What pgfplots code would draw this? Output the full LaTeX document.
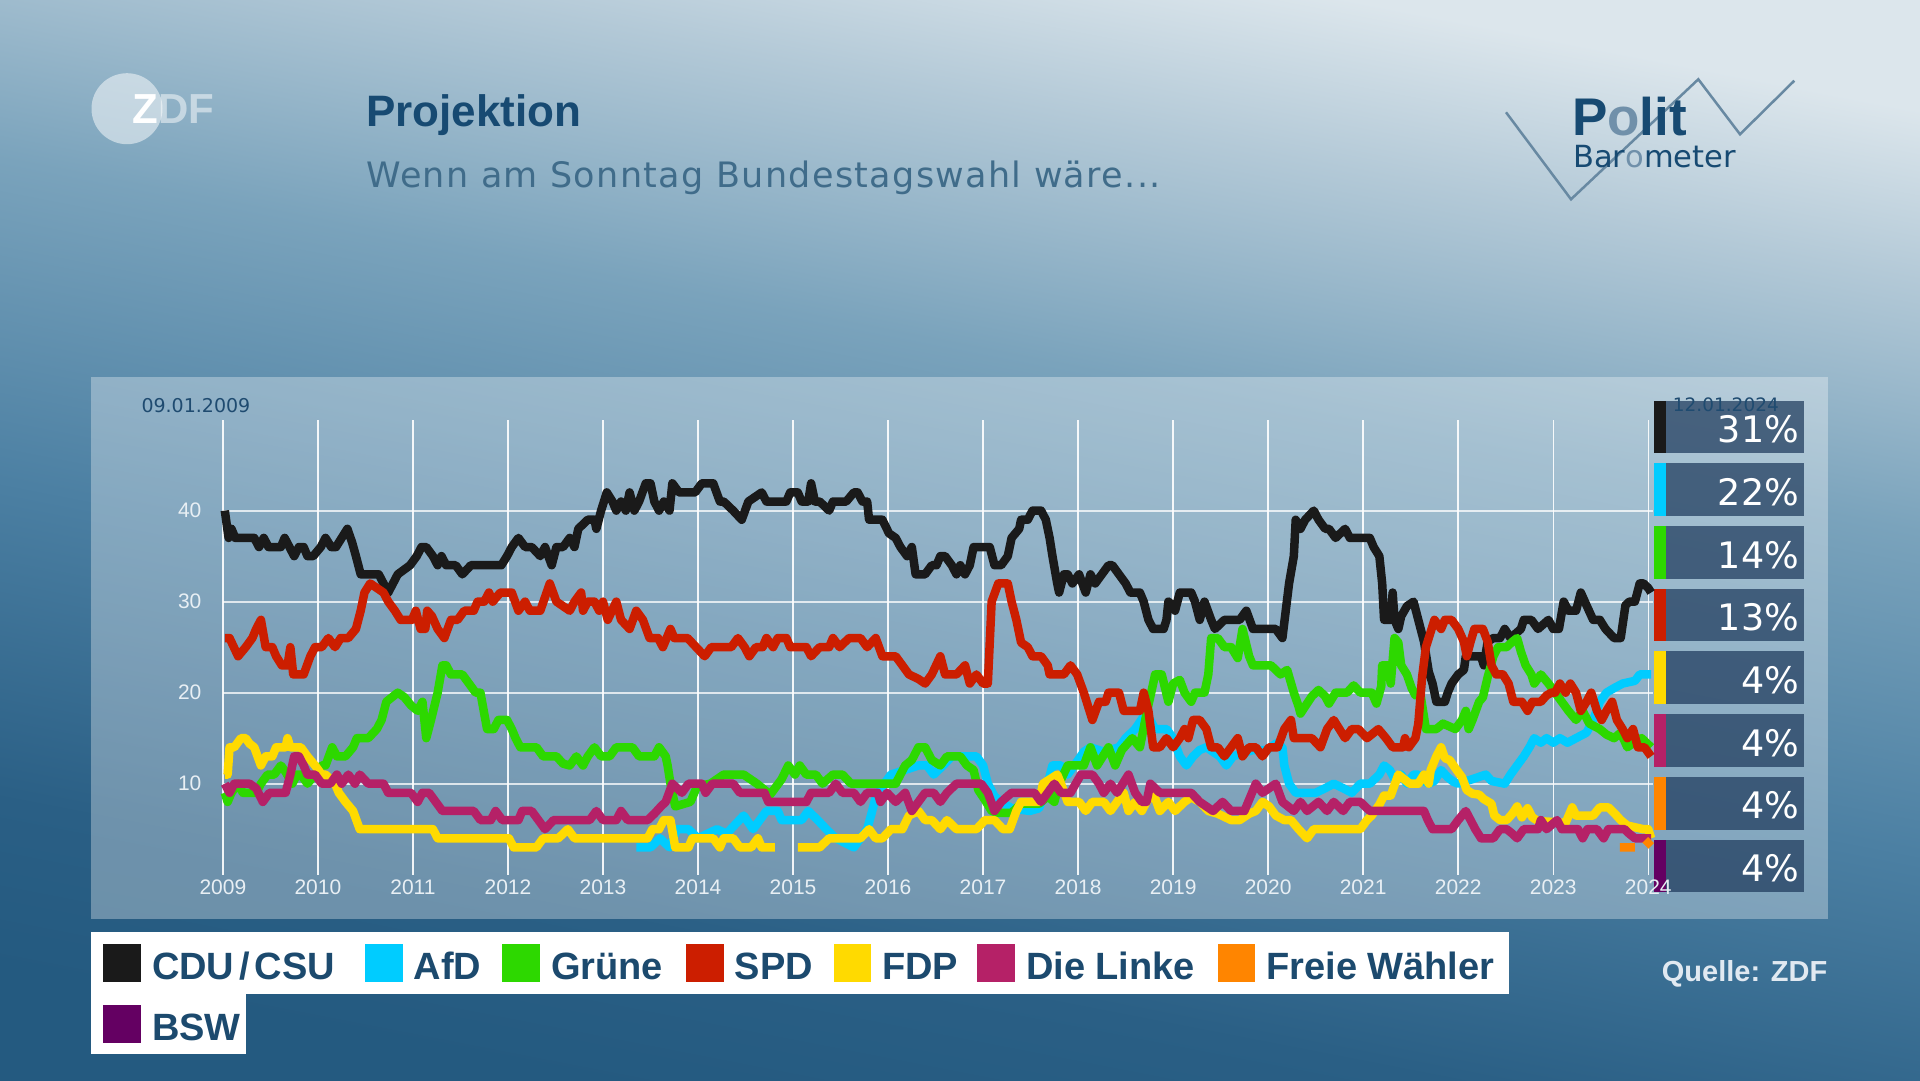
\documentclass[border=0pt]{standalone}
\usepackage{fontspec}
\setmainfont{Liberation Sans}
\newfontfamily\dejavu{DejaVu Sans}
\newfontfamily\subfont{DejaVu Sans}[LetterSpace=3.8]
\usepackage{pgfplots}
\usepackage{pgfplotstable}
\pgfplotsset{compat=1.18}

\definecolor{cCDU}{HTML}{1A1A1A}
\definecolor{cAfD}{HTML}{00CCFF}
\definecolor{cGruene}{HTML}{2DD800}
\definecolor{cSPD}{HTML}{CC1E00}
\definecolor{cFDP}{HTML}{FFDA00}
\definecolor{cLinke}{HTML}{B52167}
\definecolor{cFW}{HTML}{FF8500}
\definecolor{cBSW}{HTML}{640062}
\definecolor{titleblue}{HTML}{174A72}
\definecolor{subblue}{HTML}{406C8A}
\definecolor{legblue}{HTML}{1C4A6E}
\definecolor{dateblue}{HTML}{1F4B70}
\definecolor{tickcol}{HTML}{E8EFF4}
\definecolor{boxcol}{HTML}{1E3A5C}
\definecolor{logoline}{HTML}{6889A2}
\definecolor{logolight}{HTML}{7090AA}
\definecolor{quellecol}{HTML}{E1E9F1}
\definecolor{bgA}{HTML}{245A80}
\definecolor{bgB}{HTML}{2A5F85}
\definecolor{bgC}{HTML}{4C80A3}
\definecolor{bgD}{HTML}{7AA3BC}
\definecolor{bgE}{HTML}{B3C9D7}
\definecolor{bgF}{HTML}{DCE6EC}
\pgfdeclareverticalshading{bgshade}{100bp}{color(0bp)=(bgA); color(25bp)=(bgA); color(31.9bp)=(bgB); color(44.9bp)=(bgC); color(57.9bp)=(bgD); color(68.1bp)=(bgE); color(75bp)=(bgF); color(100bp)=(bgF)}

\pgfplotstableread{
x y
2009.02 40
2009.06 37
2009.09 38
2009.13 37
2009.33 37
2009.38 36
2009.43 37
2009.48 36
2009.61 36
2009.65 37
2009.70 36
2009.75 35
2009.80 36
2009.85 36
2009.89 35
2009.95 35
2010.03 36
2010.08 37
2010.14 36
2010.19 36
2010.25 37
2010.31 38
2010.36 36.5
2010.40 35
2010.45 33
2010.64 33
2010.69 32
2010.74 31
2010.84 33
2010.97 34
2011.04 35
2011.09 36
2011.14 36
2011.21 35
2011.26 34
2011.30 35
2011.35 34
2011.45 34
2011.52 33
2011.61 34
2011.93 34
2011.99 35
2012.04 36
2012.11 37
2012.18 36
2012.25 36
2012.34 35
2012.39 36
2012.46 34
2012.51 36
2012.58 36
2012.65 37
2012.70 36
2012.74 38
2012.84 39
2012.91 39
2012.93 38
2012.98 40
2013.04 42
2013.10 41
2013.14 40
2013.19 41
2013.24 40
2013.28 42
2013.33 40
2013.38 41
2013.45 43
2013.50 43
2013.54 41
2013.59 40
2013.64 41
2013.70 40
2013.73 43
2013.80 42
2013.97 42
2014.04 43
2014.16 43
2014.23 41
2014.27 41
2014.37 40
2014.46 39
2014.53 41
2014.67 42
2014.72 41
2014.93 41
2014.97 42
2015.05 42
2015.09 41
2015.16 41
2015.19 43
2015.23 41
2015.28 41
2015.38 40
2015.42 41
2015.56 41
2015.64 42
2015.68 42
2015.73 41
2015.78 41
2015.80 39
2015.94 39
2016.01 37.5
2016.08 37
2016.13 36
2016.20 35
2016.25 36
2016.29 33
2016.39 33
2016.46 34
2016.51 34
2016.55 35
2016.60 35
2016.67 34
2016.72 33
2016.76 34
2016.81 33
2016.86 34
2016.90 36
2017.07 36
2017.12 34
2017.19 34
2017.26 35
2017.30 37
2017.38 38
2017.40 39
2017.47 39
2017.52 40
2017.61 40
2017.66 39
2017.70 37
2017.73 35
2017.78 32
2017.80 31
2017.85 33
2017.89 33
2017.94 32
2018.01 33
2018.08 31
2018.13 33
2018.18 32
2018.25 33
2018.32 34
2018.36 34
2018.43 33
2018.50 32
2018.55 31
2018.65 31
2018.69 30
2018.74 28
2018.79 27
2018.90 27
2018.93 28
2018.95 30
2019.00 29.5
2019.02 29
2019.07 31
2019.19 31
2019.23 30
2019.28 28
2019.33 30
2019.40 28
2019.44 27
2019.54 28
2019.70 28
2019.77 29
2019.84 27
2020.08 27
2020.15 26
2020.22 32
2020.27 35
2020.29 39
2020.34 38
2020.39 39
2020.48 40
2020.53 39
2020.60 38
2020.64 38
2020.71 37
2020.81 38
2020.86 37
2021.07 37
2021.11 36
2021.17 35
2021.20 32
2021.22 28
2021.29 28
2021.31 31
2021.33 28
2021.37 27
2021.40 28.4
2021.46 29.5
2021.53 30
2021.58 28
2021.64 25.6
2021.69 22.3
2021.73 21
2021.77 19
2021.86 19
2021.89 20
2021.93 21
2022.00 22
2022.06 22.5
2022.08 24
2022.24 24
2022.27 23
2022.31 25.6
2022.37 26
2022.44 26
2022.49 27
2022.55 26
2022.66 27
2022.69 28
2022.77 28
2022.84 27
2022.95 28
2023.00 27
2023.06 27
2023.11 30
2023.16 29
2023.24 29
2023.29 31
2023.35 29.6
2023.42 28
2023.49 28
2023.55 27
2023.64 26
2023.71 26
2023.76 29.6
2023.80 30
2023.86 30
2023.91 32
2023.95 32
2024.00 31.5
2024.03 31
}\cdu

\pgfplotstableread{
x y
2009.02 26
2009.07 26
2009.16 24
2009.24 25
2009.31 26
2009.35 27
2009.40 28
2009.45 25
2009.52 25
2009.56 24
2009.62 23
2009.68 23
2009.71 25
2009.74 22
2009.85 22
2009.92 24
2009.97 25
2010.04 25
2010.11 26
2010.18 25
2010.24 26
2010.32 26
2010.40 27
2010.45 29
2010.49 31
2010.55 32
2010.62 31.5
2010.69 31
2010.74 30
2010.81 29
2010.87 28
2010.99 28
2011.03 29
2011.08 27
2011.13 27
2011.15 29
2011.20 28.4
2011.26 27
2011.33 26
2011.40 28
2011.47 28
2011.54 29
2011.64 29
2011.68 30
2011.75 30
2011.80 31
2011.84 30
2011.92 31
2012.04 31
2012.11 29
2012.18 30
2012.23 29
2012.34 29
2012.39 30.5
2012.44 32
2012.51 30
2012.58 29.5
2012.65 29
2012.70 30
2012.77 31
2012.79 29
2012.84 30
2012.91 30
2012.96 29
2013.00 30
2013.05 28
2013.14 30
2013.19 28
2013.28 27
2013.35 29
2013.42 28
2013.49 26
2013.58 26
2013.63 25
2013.71 27
2013.75 26
2013.89 26
2013.98 25
2014.07 24
2014.14 25
2014.35 25
2014.42 26
2014.49 25
2014.54 24
2014.61 25
2014.68 25
2014.72 26
2014.79 25
2014.84 26
2014.93 26
2014.97 25
2015.14 25
2015.19 24
2015.28 25
2015.38 25
2015.42 26
2015.49 25
2015.59 26
2015.71 26
2015.78 25
2015.87 26
2015.94 24
2016.08 24
2016.15 23
2016.22 22
2016.32 21.5
2016.39 21
2016.46 22
2016.55 24
2016.60 22
2016.72 22
2016.81 23
2016.86 21
2016.93 22
2017.00 21
2017.05 21
2017.09 30
2017.16 32
2017.26 32
2017.30 30
2017.35 28
2017.40 25.5
2017.47 25
2017.52 24
2017.61 24
2017.68 23
2017.70 22
2017.85 22
2017.92 23
2017.99 22
2018.06 20
2018.15 17
2018.22 19
2018.29 19
2018.32 20
2018.43 20
2018.48 18
2018.65 18
2018.69 20
2018.74 18
2018.79 14
2018.86 14
2018.93 15
2019.00 14
2019.07 15
2019.12 16
2019.16 15
2019.21 17
2019.28 17
2019.35 16
2019.40 14
2019.47 14
2019.54 13
2019.61 14
2019.68 15
2019.73 13
2019.80 14
2019.87 14
2019.94 13
2020.01 14
2020.10 14
2020.17 16
2020.24 17
2020.27 15
2020.46 15
2020.55 14
2020.62 16
2020.69 17
2020.81 15
2020.88 16
2020.95 16
2021.04 15
2021.16 16
2021.24 15
2021.31 14
2021.42 14
2021.44 15
2021.48 14
2021.55 15
2021.58 16.6
2021.62 21.7
2021.66 25
2021.69 26
2021.75 28
2021.82 27
2021.86 28
2021.93 28
2022.00 27
2022.06 25.6
2022.09 24
2022.13 25.6
2022.17 27
2022.26 27
2022.31 25.6
2022.35 23
2022.40 22
2022.47 22
2022.53 21
2022.58 19
2022.67 19
2022.73 18
2022.78 19
2022.87 19
2022.93 19.7
2022.98 20
2023.02 20
2023.07 21
2023.13 20
2023.18 21
2023.24 20
2023.29 18
2023.35 19
2023.40 20
2023.46 18
2023.51 17
2023.56 18
2023.62 19
2023.67 17
2023.73 16
2023.78 15
2023.84 16
2023.89 14
2023.96 14
2024.03 13
}\spd

\pgfplotstableread{
x y
2009.02 9
2009.05 8
2009.09 9
2009.16 10
2009.21 9
2009.35 9
2009.40 10
2009.47 11
2009.54 11
2009.61 12
2009.66 11.3
2009.73 10
2009.78 11
2009.82 11
2009.89 10
2009.97 11
2010.04 12
2010.08 12
2010.15 14
2010.20 13
2010.29 13
2010.37 14
2010.41 15
2010.53 15
2010.62 16
2010.67 17
2010.72 19
2010.84 20
2010.91 19.5
2010.98 18.6
2011.05 18
2011.10 19
2011.14 15
2011.19 17
2011.26 20
2011.31 23
2011.35 23
2011.40 22
2011.52 22
2011.59 21
2011.66 20
2011.71 20
2011.78 16
2011.85 16
2011.90 17
2011.99 17
2012.04 16
2012.08 15
2012.13 14
2012.30 14
2012.37 13
2012.51 13
2012.58 12.2
2012.65 12
2012.72 13
2012.79 12
2012.84 13
2012.91 14
2012.98 13
2013.07 13
2013.14 14
2013.31 14
2013.38 13
2013.54 13
2013.59 14
2013.66 13
2013.68 12
2013.71 10
2013.76 7.5
2013.92 8
2013.99 9.7
2014.13 10
2014.27 11
2014.48 11
2014.62 10
2014.76 8.8
2014.88 10.5
2014.95 12
2015.02 11
2015.07 12
2015.14 11
2015.24 11
2015.31 10
2015.42 11
2015.52 11
2015.61 10
2016.08 10
2016.18 12
2016.25 12.6
2016.32 14
2016.39 14
2016.46 12.6
2016.55 12
2016.62 13
2016.76 13
2016.83 12
2016.90 11.5
2016.95 9.3
2017.02 8.2
2017.09 7
2017.16 6.8
2017.30 6.8
2017.40 7.8
2017.59 7.8
2017.68 8.6
2017.75 8
2017.80 10
2017.89 12
2018.06 12
2018.13 14
2018.20 12
2018.32 14
2018.39 12
2018.46 13.7
2018.57 15
2018.65 14
2018.72 17.7
2018.79 21
2018.81 22
2018.88 22
2018.95 19
2019.00 21
2019.07 21.4
2019.12 20
2019.19 19
2019.23 20
2019.33 20
2019.37 22
2019.40 26
2019.47 26
2019.54 25
2019.61 25
2019.68 23.8
2019.73 27
2019.80 24
2019.84 23
2020.03 23
2020.13 22
2020.20 22.5
2020.27 20
2020.32 18.5
2020.34 17.7
2020.39 18.5
2020.46 19.6
2020.53 20.3
2020.60 19.6
2020.64 18.8
2020.71 20
2020.83 20
2020.90 20.8
2020.97 20
2021.09 20
2021.14 18.8
2021.19 20.7
2021.20 23
2021.26 23
2021.29 21
2021.33 26
2021.37 25.5
2021.40 23
2021.46 22
2021.51 20.5
2021.55 19.7
2021.60 20
2021.66 16
2021.77 16
2021.84 16.6
2021.97 16
2022.04 17
2022.08 18
2022.11 16
2022.15 17
2022.22 19
2022.26 19.5
2022.31 21.7
2022.37 24
2022.42 25
2022.51 25
2022.57 25.6
2022.62 26
2022.66 24.5
2022.71 23
2022.77 22
2022.80 21
2022.87 22
2022.95 21
2023.02 20
2023.09 19
2023.16 18
2023.24 17
2023.31 18
2023.38 16.6
2023.49 16
2023.56 15.4
2023.64 15
2023.71 15.6
2023.78 14
2023.86 14.6
2023.93 15
2024.03 14
}\gruene

\pgfplotstableread{
x y
2009.02 11
2009.05 11
2009.07 14
2009.12 14
2009.19 15
2009.24 15
2009.28 14.4
2009.33 14
2009.40 12
2009.45 13
2009.52 13
2009.56 14
2009.66 14
2009.68 15
2009.71 14
2009.82 14
2009.89 13
2009.97 12
2010.04 11
2010.08 11
2010.18 10
2010.22 9
2010.29 8
2010.37 7
2010.44 5
2011.21 5
2011.26 4
2012.01 4
2012.06 3
2012.30 3
2012.37 4
2012.53 4
2012.63 5
2012.70 4
2013.47 4
2013.52 5
2013.59 5
2013.64 6
2013.71 6
2013.76 3
2013.90 3
2013.94 4
2014.16 4
2014.23 3
2014.27 4
2014.37 4
2014.44 3
2014.56 3
2014.63 4
2014.67 3
2014.81 3
2014.90 nan
2015.05 3
2015.28 3
2015.38 4
2015.71 4
2015.80 5
2015.87 4
2015.94 4
2016.03 5
2016.15 5
2016.22 6.5
2016.32 7
2016.39 6
2016.46 6
2016.55 5
2016.62 6
2016.72 5
2016.93 5
2017.02 6
2017.12 6
2017.21 5
2017.28 5
2017.35 7
2017.40 8
2017.59 8
2017.63 10
2017.78 11
2017.82 10
2017.89 8
2018.01 8
2018.08 7
2018.15 8
2018.27 8
2018.34 7
2018.41 8
2018.48 9
2018.53 7
2018.60 8
2018.67 7
2018.72 8
2018.79 9
2018.86 7
2018.95 8
2019.02 7
2019.12 8
2019.19 8.5
2019.28 8
2019.37 7
2019.47 6.7
2019.61 6
2019.70 6
2019.80 6.7
2019.87 7
2019.94 8
2020.01 7.5
2020.08 6.5
2020.17 6
2020.24 6
2020.32 5
2020.41 4
2020.48 5
2020.97 5
2021.04 6
2021.09 6.5
2021.17 7.7
2021.22 8.7
2021.29 8.7
2021.37 11
2021.49 10
2021.58 10
2021.64 11
2021.69 10
2021.71 11.5
2021.77 13
2021.82 14
2021.86 12.8
2021.91 12.6
2021.97 11.7
2022.04 10.7
2022.09 9.3
2022.15 8.9
2022.22 8.8
2022.27 8.3
2022.35 7.8
2022.38 6.5
2022.44 6
2022.51 6
2022.57 6.7
2022.62 7.5
2022.67 6.3
2022.73 7.3
2022.78 6.3
2022.84 5.9
2023.13 5.7
2023.20 7.4
2023.24 6.5
2023.42 6.5
2023.49 7.4
2023.58 7.4
2023.64 6.8
2023.71 6
2023.78 5.4
2023.95 5
2024.00 5
2024.03 4
}\fdp

\pgfplotstableread{
x y
2009.02 10
2009.07 9
2009.12 10
2009.28 10
2009.35 9.5
2009.42 8
2009.49 9
2009.66 9
2009.71 11
2009.75 13
2009.80 13
2009.85 12
2009.89 11
2009.97 11
2010.04 10
2010.13 10
2010.20 11
2010.25 10
2010.32 11
2010.39 10
2010.44 11
2010.53 10
2010.69 10
2010.74 9
2010.98 9
2011.05 8
2011.10 9
2011.17 9
2011.24 8
2011.31 7
2011.64 7
2011.71 6
2011.82 6
2011.87 7
2011.94 6
2012.11 6
2012.15 7
2012.25 7
2012.32 6
2012.39 5
2012.48 6
2012.86 6
2012.93 7
2013.00 6
2013.14 6
2013.19 7
2013.26 6
2013.47 6
2013.54 6.7
2013.61 7.5
2013.66 8
2013.73 10
2013.83 9
2013.90 10
2014.04 10
2014.08 9
2014.15 10
2014.37 10
2014.44 9
2014.70 9
2014.74 8
2015.14 8
2015.19 9
2015.38 9
2015.45 10
2015.52 9
2015.64 9
2015.71 8
2015.78 9
2015.89 9
2015.92 8
2015.99 9
2016.08 8
2016.18 9
2016.25 7
2016.32 8
2016.39 9
2016.48 9
2016.55 8
2016.62 9
2016.72 10
2016.98 10
2017.05 9
2017.12 7
2017.19 8
2017.30 9
2017.54 9
2017.61 8
2017.68 9
2017.75 10
2017.82 9
2017.92 9
2018.03 11
2018.15 11
2018.22 10
2018.27 9
2018.34 10
2018.41 9
2018.53 11
2018.60 9
2018.67 8
2018.72 8
2018.76 10
2018.86 9
2019.19 9
2019.28 8
2019.42 7
2019.52 8
2019.61 7
2019.75 7
2019.87 10
2019.94 9
2020.08 10
2020.15 8
2020.27 7
2020.34 8
2020.41 7
2020.53 8
2020.62 7
2020.69 8
2020.79 7
2020.86 8
2020.97 8
2021.07 7
2021.64 7
2021.68 6
2021.73 5
2021.93 5
2022.00 6
2022.08 7
2022.13 6
2022.18 5
2022.24 4
2022.37 4
2022.44 5
2022.51 5
2022.57 4.5
2022.62 4
2022.69 5
2022.84 5
2022.87 6
2022.93 5
2023.04 6
2023.09 5
2023.26 5
2023.31 4
2023.36 5
2023.46 5
2023.53 4
2023.58 5
2023.75 5
2023.80 4.5
2023.86 4
2024.03 4
}\linke

\pgfplotstableread{
x y
2013.35 3
2013.50 3
2013.60 4
2013.70 3
2013.78 5
2013.90 5
2014.00 4
2014.20 5
2014.30 4.5
2014.48 6.5
2014.58 5
2014.72 7
2014.84 7
2014.88 6
2015.09 6
2015.16 7
2015.26 6
2015.35 5
2015.45 4
2015.64 3
2015.71 4
2015.78 5
2015.82 6.5
2015.87 8.5
2015.96 10
2016.03 11
2016.32 12
2016.41 12
2016.48 11
2016.58 12
2016.67 13
2016.93 13
2017.00 12
2017.05 10
2017.12 8.6
2017.19 8
2017.30 7.3
2017.49 7
2017.59 7.3
2017.68 10
2017.73 12
2017.82 12
2017.89 11
2017.96 12
2018.06 13.5
2018.13 14
2018.27 13.5
2018.43 14
2018.50 15
2018.60 16
2018.69 17.4
2018.76 17
2018.81 16
2018.93 16
2019.00 15
2019.07 13
2019.14 12
2019.21 13
2019.28 13.7
2019.35 14
2019.42 13.5
2019.49 13
2019.56 12
2019.63 13
2019.84 13.7
2019.99 13.7
2020.08 14.4
2020.15 14
2020.17 12
2020.22 10
2020.29 9
2020.50 9
2020.60 9.5
2020.69 10
2020.79 9.5
2020.88 9
2020.97 10
2021.07 10
2021.17 11
2021.22 12
2021.28 11.5
2021.33 10.5
2021.40 11
2021.46 10
2021.53 11
2021.58 11
2021.64 10.3
2021.69 10
2021.75 10.3
2021.82 11.5
2021.89 10.7
2021.95 10.2
2022.00 10
2022.15 10.5
2022.29 11
2022.35 10.3
2022.49 10
2022.55 11
2022.62 12
2022.69 13
2022.75 14
2022.80 15
2022.87 14.5
2022.93 15
2023.00 14.5
2023.07 15
2023.15 14.5
2023.24 15
2023.35 15.6
2023.42 17
2023.49 19
2023.56 20
2023.64 20.5
2023.73 21
2023.86 21.3
2023.91 22
2024.03 22
}\afd

\pgfplotstableread{
x y
2023.70 3
2023.86 3
2023.92 nan
2023.97 3.2
2024.03 3.8
}\fw

\newcommand\legitem[4]{%
  \fill[#3] (#1,#2) rectangle ++(37.7,37.7);
  \node[anchor=base west, inner sep=0pt, text=legblue,
        font=\bfseries\fontsize{38}{42}\selectfont] at ({#1+48.5},{#2+2.4}) {#4};
}

\begin{document}
\begin{tikzpicture}
\begin{scope}[x=1pt,y=1pt]
\useasboundingbox (0,0) rectangle (1920,1080);
\shade[shading=bgshade, shading angle=-11] (0,0) rectangle (1920,1080);
% chart panel
\fill[white, opacity=0.32] (90.6,702.8) rectangle (1828.2,161.0);
% ZDF logo
\fill[white, opacity=0.5] (127,971.3) circle (35.5);
\node[anchor=base west, inner sep=0pt, text=white,
      font=\bfseries\fontsize{42}{44}\selectfont] (z) at (132,956) {Z};
\node[anchor=base west, inner sep=0pt, text=white, text opacity=0.5,
      font=\bfseries\fontsize{42}{44}\selectfont] at (z.base east) {DF};
% titles
\node[anchor=base west, inner sep=0pt, text=titleblue,
      font=\bfseries\fontsize{44}{50}\selectfont] at (366,953.3) {Projektion};
\node[anchor=base west, inner sep=0pt, text=subblue,
      font=\subfont\fontsize{35}{40}\selectfont] at (366,892.7) {Wenn am Sonntag Bundestagswahl wäre...};
% Politbarometer logo
\draw[logoline, line width=2.5pt] (1506,967.7) -- (1571,880.7) -- (1698.3,1000.7) -- (1740,945.7) -- (1794.3,999.3);
\node[anchor=base west, inner sep=0pt, font=\bfseries\fontsize{53}{60}\selectfont] at (1572,944)
  {\textcolor{titleblue}{P}\textcolor{logolight}{o}\textcolor{titleblue}{lit}};
\node[anchor=base west, inner sep=0pt, font=\dejavu\fontsize{30.5}{34}\selectfont] at (1573,912.7)
  {\textcolor{titleblue}{Bar}\textcolor{logolight}{o}\textcolor{titleblue}{meter}};
% result badges
\foreach \i/\cc/\pv in {0/cCDU/31,1/cAfD/22,2/cGruene/14,3/cSPD/13,4/cFDP/4,5/cLinke/4,6/cFW/4,7/cBSW/4}{
  \pgfmathsetmacro\yt{679.3-62.7*\i}
  \pgfmathsetmacro\yb{\yt-52.6}
  \fill[boxcol, opacity=0.72] (1666,\yb) rectangle (1804,\yt);
  \fill[\cc] (1654,\yb) rectangle (1666,\yt);
  \node[anchor=base east, inner sep=0pt, text=white,
        font=\dejavu\fontsize{36.5}{40}\selectfont] at (1799.3,{\yt-42}) {\pv\%};
}
% dates
\node[anchor=base west, inner sep=0pt, text=dateblue,
      font=\dejavu\fontsize{19}{20}\selectfont] at (141.3,667) {09.01.2009};
\node[anchor=base west, inner sep=0pt, text=dateblue,
      font=\dejavu\fontsize{18.5}{20}\selectfont] at (1672.7,668.3) {12.01.2024};
% legend
\fill[white] (90.6,147.7) rectangle (1509,86.3);
\fill[white] (90.6,86.3) rectangle (246,26);
\legitem{103.3}{98.3}{cCDU}{CDU\kern5pt/\kern5pt CSU}
\legitem{365}{98.3}{cAfD}{AfD}
\legitem{502.3}{98.3}{cGruene}{Grüne}
\legitem{686}{98.3}{cSPD}{SPD}
\legitem{833.5}{98.3}{cFDP}{FDP}
\legitem{977.3}{98.3}{cLinke}{Die Linke}
\legitem{1217.7}{98.3}{cFW}{Freie Wähler}
\legitem{103.3}{37.3}{cBSW}{BSW}
\node[anchor=base east, inner sep=0pt, text=quellecol,
      font=\bfseries\fontsize{29}{32}\selectfont] at (1827.5,98.3) {Quelle: ZDF};
\end{scope}

\begin{axis}[
  at={(222.9pt,205.3pt)}, anchor=south west, scale only axis,
  width=1430.1pt, height=455.1pt,
  xmin=2009, xmax=2024.05, ymin=0, ymax=50,
  clip=false,
  axis line style={draw=none},
  tick style={draw=none},
  major tick length=0pt,
  xtick={2009,2010,...,2024},
  xticklabels={2009,2010,2011,2012,2013,2014,2015,2016,2017,2018,2019,2020,2021,2022,2023,2024},
  ytick={10,20,30,40}, yticklabels={10,20,30,40},
  xmajorgrids, ymajorgrids,
  x grid style={white, line width=1.4pt, opacity=0.9},
  y grid style={white, line width=1.8pt, opacity=0.75},
  xticklabel style={font=\fontsize{21}{22}\selectfont, text=tickcol, inner sep=0pt, anchor=north, yshift=-5pt},
  yticklabel style={font=\fontsize{21}{22}\selectfont, text=tickcol, inner sep=0pt, anchor=east, xshift=-21.3pt},
  unbounded coords=jump,
  every axis plot/.append style={line width=8.5pt, line join=round},
]
\addplot[cCDU] table {\cdu};
\addplot[cAfD] table {\afd};
\addplot[cGruene] table {\gruene};
\addplot[cSPD] table {\spd};
\addplot[cFDP] table {\fdp};
\addplot[cLinke] table {\linke};
\addplot[cFW] table {\fw};
\end{axis}
\end{tikzpicture}
\end{document}
